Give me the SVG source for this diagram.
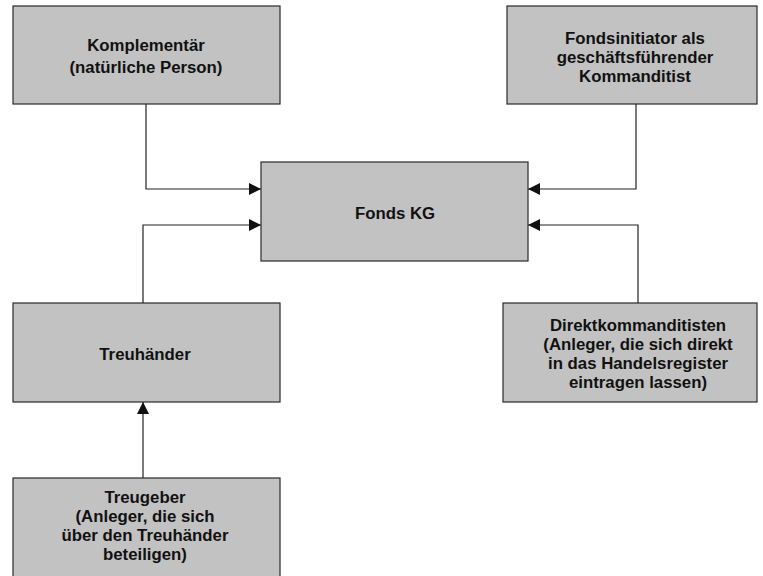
<svg xmlns="http://www.w3.org/2000/svg" width="763" height="576" viewBox="0 0 763 576">
<style>
.box{fill:#c2c2c2;stroke:#2a2a2a;stroke-width:1.2}
.t{font-family:"Liberation Sans",Arial,sans-serif;font-weight:bold;font-size:16.8px;fill:#111;text-anchor:middle}
.c{fill:none;stroke:#222;stroke-width:1.2}
</style>
<defs>
<marker id="ah" viewBox="0 0 12 12" refX="12" refY="6" markerWidth="12" markerHeight="12" markerUnits="userSpaceOnUse" orient="auto">
<path d="M0,0 L12,6 L0,12 Z" fill="#111"/>
</marker>
</defs>
<rect width="763" height="576" fill="#ffffff"/>
<g id="connectors">
<path class="c" d="M146,104 V189 H261" marker-end="url(#ah)"/>
<path class="c" d="M143,303 V225 H261" marker-end="url(#ah)"/>
<path class="c" d="M636,104 V189 H528" marker-end="url(#ah)"/>
<path class="c" d="M638,303 V225 H528" marker-end="url(#ah)"/>
<path class="c" d="M143,478 V402" marker-end="url(#ah)"/>
</g>
<g id="komplementaer">
<rect class="box" x="13" y="6" width="267" height="98"/>
<text class="t" x="146" y="51">Komplementär</text>
<text class="t" x="146" y="73">(natürliche Person)</text>
</g>
<g id="fondsinitiator">
<rect class="box" x="507" y="6" width="250" height="98"/>
<text class="t" x="635" y="44">Fondsinitiator als</text>
<text class="t" x="635" y="63">geschäftsführender</text>
<text class="t" x="635" y="82">Kommanditist</text>
</g>
<g id="fondskg">
<rect class="box" x="261" y="162" width="267" height="99"/>
<text class="t" x="395" y="219">Fonds KG</text>
</g>
<g id="treuhaender">
<rect class="box" x="13" y="303" width="267" height="99"/>
<text class="t" x="145" y="360">Treuhänder</text>
</g>
<g id="direktkommanditisten">
<rect class="box" x="503" y="303" width="254" height="99"/>
<text class="t" x="638" y="331">Direktkommanditisten</text>
<text class="t" x="638" y="350">(Anleger, die sich direkt</text>
<text class="t" x="638" y="369">in das Handelsregister</text>
<text class="t" x="638" y="388">eintragen lassen)</text>
</g>
<g id="treugeber">
<rect class="box" x="13" y="478" width="267" height="110"/>
<text class="t" x="145" y="503">Treugeber</text>
<text class="t" x="145" y="522">(Anleger, die sich</text>
<text class="t" x="145" y="541">über den Treuhänder</text>
<text class="t" x="145" y="560">beteiligen)</text>
</g>
</svg>
